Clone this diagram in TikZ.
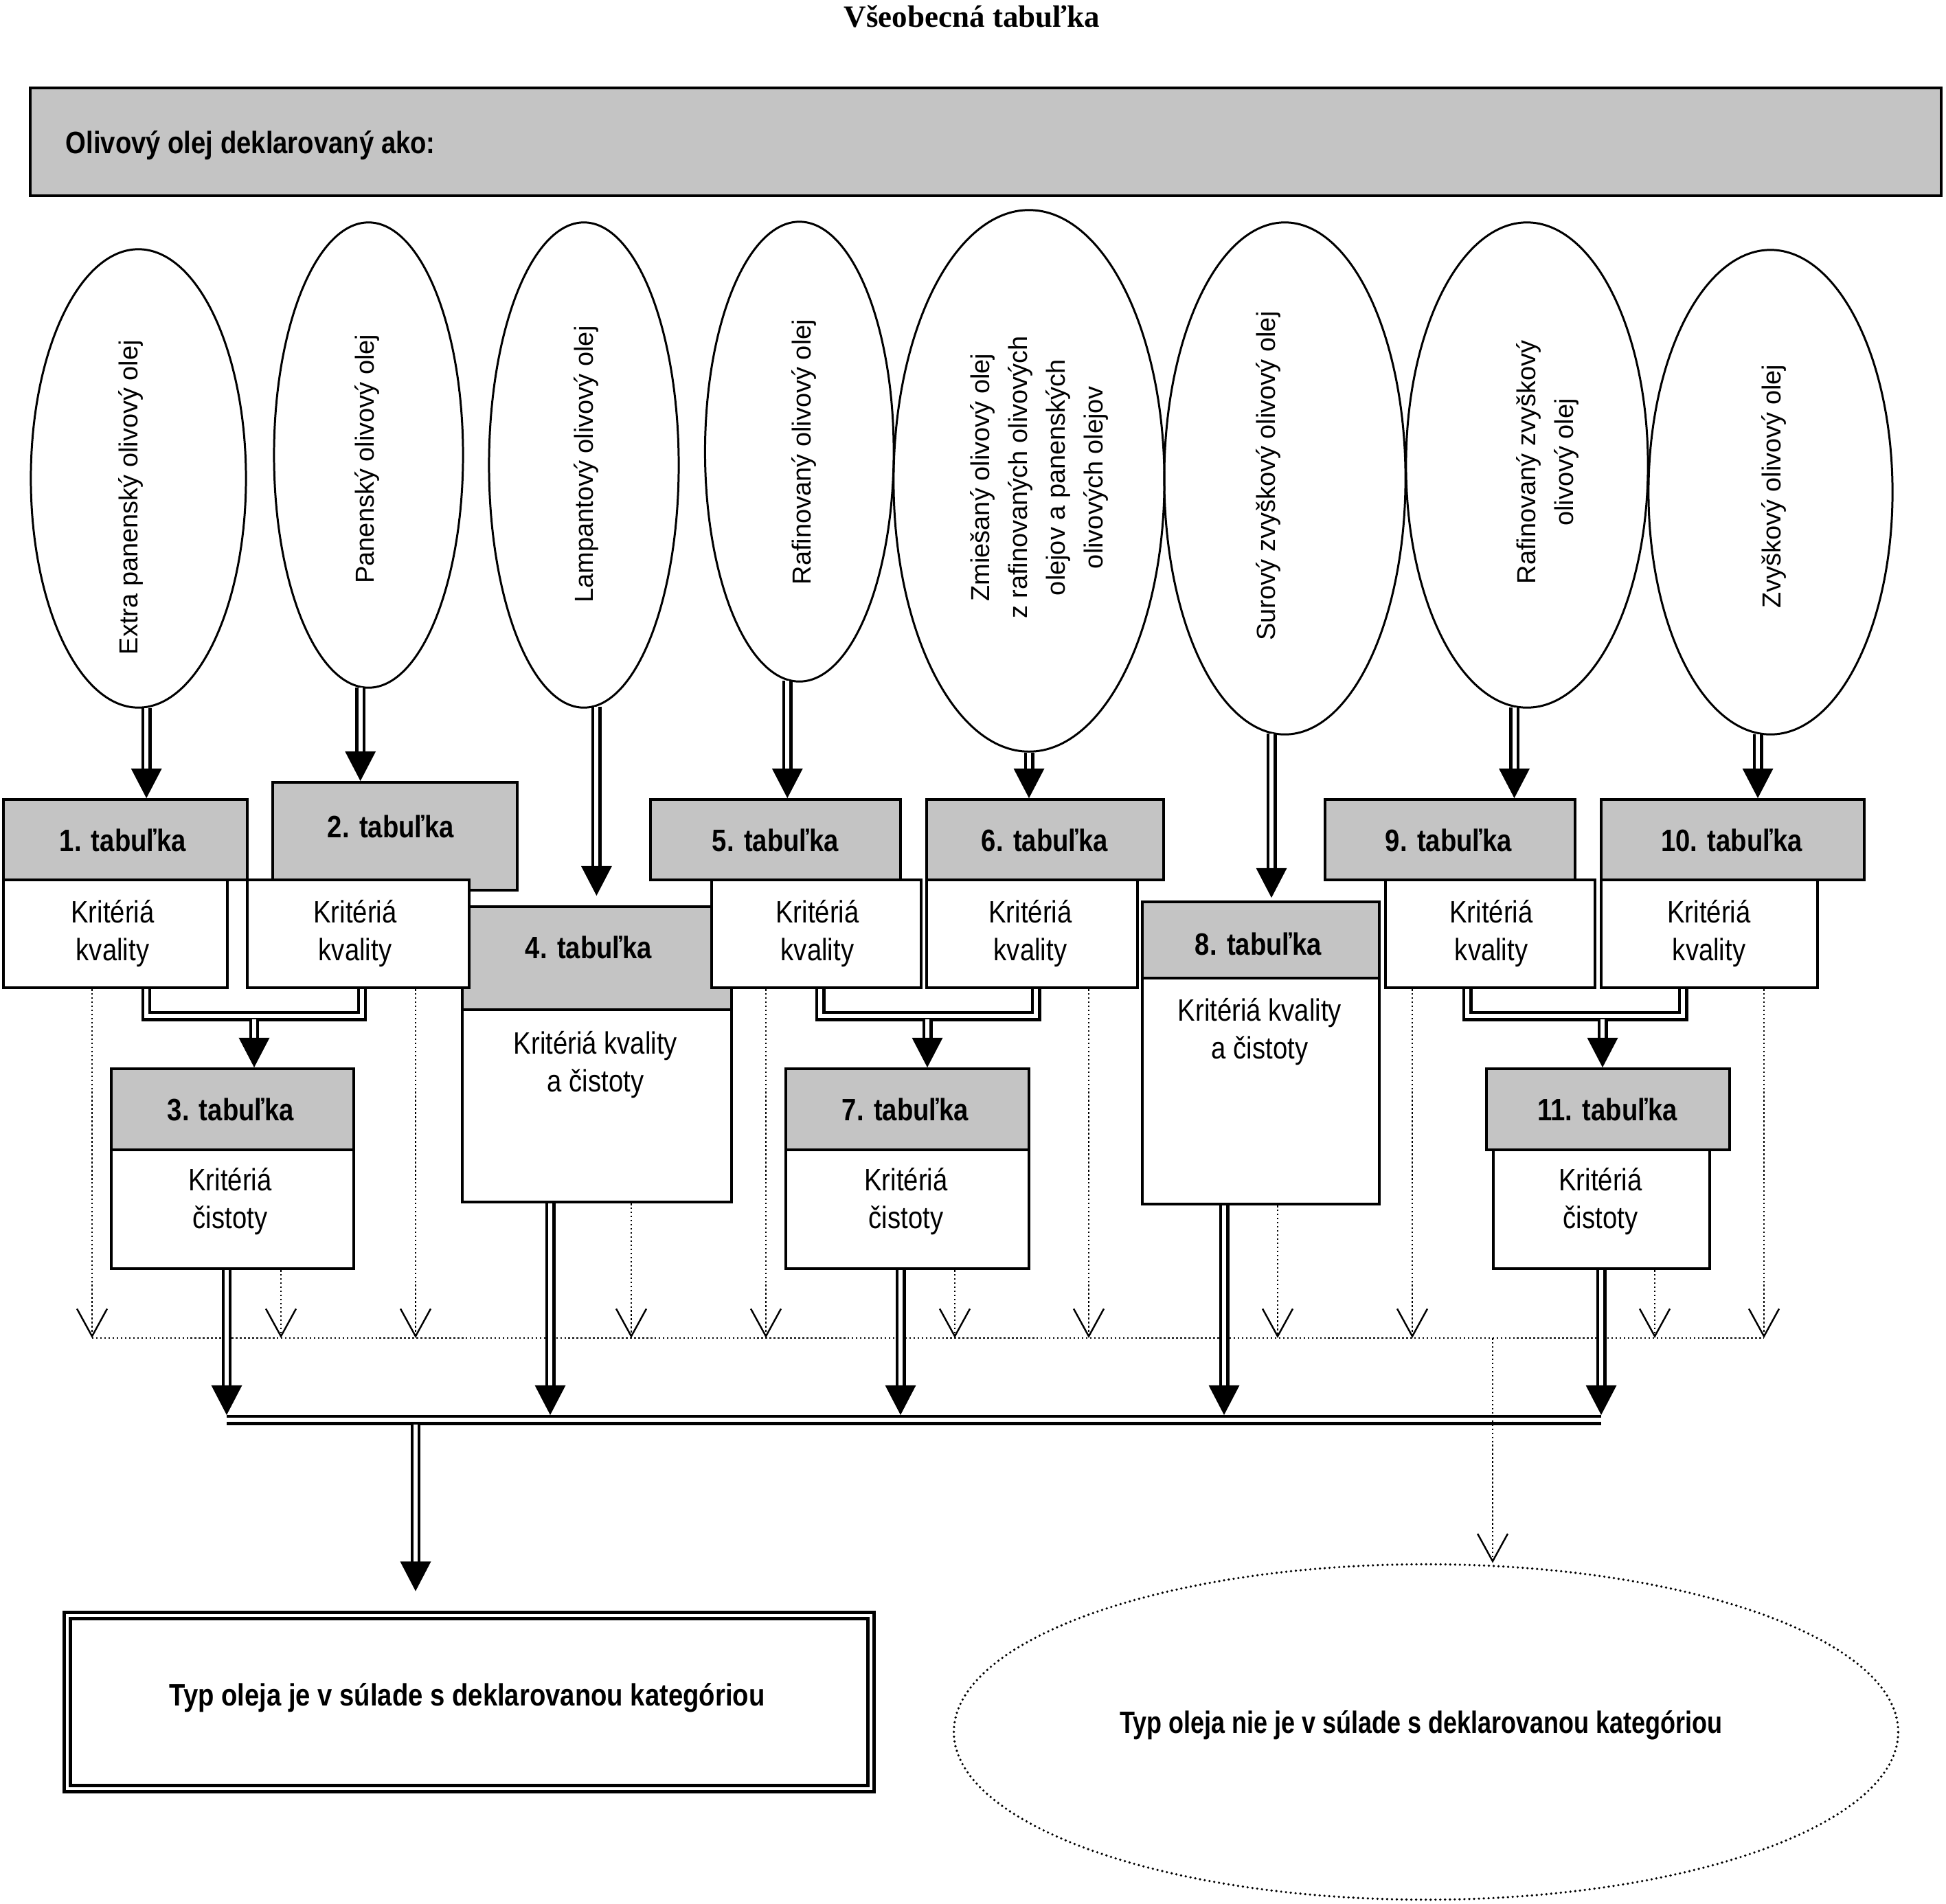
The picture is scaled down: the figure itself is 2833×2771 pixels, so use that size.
\documentclass[tikz,border=0pt]{standalone}
\usepackage{fontspec}
\setmainfont{Liberation Sans}
\newfontfamily\narrowfont{Liberation Sans}[FakeStretch=0.85]
\newfontfamily\narrowerfont{Liberation Sans}[FakeStretch=0.80]
\newfontfamily\titlefont{Liberation Serif}
\usetikzlibrary{arrows.meta,shapes.geometric,fit,calc,decorations.markings}
\definecolor{boxgray}{RGB}{196,196,196}
\begin{document}
\begin{tikzpicture}[x=0.01cm, y=-0.01cm,
  hbox/.style={draw, line width=1.14pt, fill=boxgray, inner sep=0pt},
  bbox/.style={draw, line width=1.14pt, fill=white, inner sep=0pt},
  htext/.style={font=\narrowfont\bfseries\fontsize{12.8pt}{15.65pt}\selectfont, inner sep=0pt},
  btext/.style={font=\narrowfont\fontsize{12.8pt}{15.65pt}\selectfont, align=center, inner sep=0pt, anchor=north},
  titletext/.style={font=\titlefont\bfseries\fontsize{12.8pt}{15pt}\selectfont, inner sep=0pt},
  oval/.style={draw, ellipse, line width=0.85pt, inner sep=0pt},
  etext/.style={font=\fontsize{10.8pt}{15.65pt}\selectfont, align=center, rotate=90, inner sep=0pt},
  dshaft/.style={draw, double, line width=1.28pt, double distance=1.7pt},
  darr/.style={dshaft, shorten >=9pt, postaction={decorate, decoration={markings,
      mark=at position 1 with {\fill[black, shorten >=0pt] (0pt,0pt) -- (-12.3pt,6.4pt) -- (-12.3pt,-6.4pt) -- cycle;}}}},
  dotline/.style={draw, line width=0.7pt, dash pattern=on 0.7pt off 1.0pt},
  dotarr/.style={dotline, -{Straight Barb[length=11.4pt, width=12.5pt]}},
]
\useasboundingbox (0,0) rectangle (2833,2771);

% title and top box
\node[titletext, anchor=base] (title) at (1415,39) {Všeobecná tabuľka};
\node[hbox, line width=1.3pt, fit={(44,128) (2826,285)}] (top) {};
\node[htext, anchor=base west] (toptxt) at (95,223) {Olivový olej deklarovaný ako:};

% ellipses
\node[oval, minimum width=3.13cm, minimum height=6.67cm] (e1) at (201.5,696.5) {};
\node[oval, minimum width=2.75cm, minimum height=6.77cm] (e2) at (536.5,662.5) {};
\node[oval, minimum width=2.76cm, minimum height=7.06cm] (e3) at (850,677) {};
\node[oval, minimum width=2.745cm, minimum height=6.69cm] (e4) at (1163.75,657.5) {};
\node[oval, minimum width=3.94cm, minimum height=7.88cm] (e5) at (1498,700) {};
\node[oval, minimum width=3.51cm, minimum height=7.45cm] (e6) at (1870.5,696.5) {};
\node[oval, minimum width=3.52cm, minimum height=7.06cm] (e7) at (2223,677) {};
\node[oval, minimum width=3.55cm, minimum height=7.05cm] (e8) at (2577.5,716.5) {};

\node[etext] (e1t) at (190,724) {Extra panenský olivový olej};
\node[etext] (e2t) at (534,668) {Panenský olivový olej};
\node[etext] (e3t) at (853,676) {Lampantový olivový olej};
\node[etext] (e4t) at (1170,658) {Rafinovaný olivový olej};
\node[etext] (e5t) at (1513,695) {Zmiešaný olivový olej\\z rafinovaných olivových\\olejov a panenských\\olivových olejov};
\node[etext] (e6t) at (1846,693) {Surový zvyškový olivový olej};
\node[etext] (e7t) at (2253,673) {Rafinovaný zvyškový\\olivový olej};
\node[etext] (e8t) at (2582,708) {Zvyškový olivový olej};

% header boxes
\node[hbox, fit={(673,1320) (1065,1470)}] (h4) {};
\node[hbox, fit={(5,1164) (360,1281)}] (h1) {};
\node[hbox, fit={(397,1139) (753,1296)}] (h2) {};
\node[hbox, fit={(947,1164) (1311,1281)}] (h5) {};
\node[hbox, fit={(1349,1164) (1694,1281)}] (h6) {};
\node[hbox, fit={(1929,1164) (2293,1281)}] (h9) {};
\node[hbox, fit={(2331,1164) (2714,1281)}] (h10) {};
\node[hbox, fit={(162,1556) (515,1674)}] (h3) {};
\node[hbox, fit={(1144,1556) (1498,1674)}] (h7) {};
\node[hbox, fit={(1663,1313) (2008,1424)}] (h8) {};
\node[hbox, fit={(2164,1556) (2518,1674)}] (h11) {};

% body boxes
\node[bbox, fit={(5,1281) (331,1438)}] (b1) {};
\node[bbox, fit={(360,1281) (683,1438)}] (b2) {};
\node[bbox, fit={(1036,1281) (1341,1438)}] (b5) {};
\node[bbox, fit={(1349,1281) (1656,1438)}] (b6) {};
\node[bbox, fit={(2017,1281) (2322,1438)}] (b9) {};
\node[bbox, fit={(2331,1281) (2646,1438)}] (b10) {};
\node[bbox, fit={(673,1470) (1065,1750)}] (b4) {};
\node[bbox, fit={(1663,1424) (2008,1753)}] (b8) {};
\node[bbox, fit={(162,1674) (515,1847)}] (b3) {};
\node[bbox, fit={(1144,1674) (1498,1847)}] (b7) {};
\node[bbox, fit={(2174,1674) (2489,1847)}] (b11) {};

% header texts
\node[htext] (h1t) at (179,1223) {1. tabuľka};
\node[htext] (h2t) at (569,1203) {2. tabuľka};
\node[htext] (h3t) at (336,1615) {3. tabuľka};
\node[htext] (h4t) at (857,1379) {4. tabuľka};
\node[htext] (h5t) at (1129,1223) {5. tabuľka};
\node[htext] (h6t) at (1521,1223) {6. tabuľka};
\node[htext] (h7t) at (1318,1615) {7. tabuľka};
\node[htext] (h8t) at (1832,1374) {8. tabuľka};
\node[htext] (h9t) at (2109,1223) {9. tabuľka};
\node[htext] (h10t) at (2521,1223) {10. tabuľka};
\node[htext] (h11t) at (2340,1615) {11. tabuľka};

% body texts
\node[btext] (b1t) at (164,1310) {Kritériá\\kvality};
\node[btext] (b2t) at (517,1310) {Kritériá\\kvality};
\node[btext] (b3t) at (335,1700) {Kritériá\\čistoty};
\node[btext] (b4t) at (867,1501) {Kritériá kvality\\a čistoty};
\node[btext] (b5t) at (1190,1310) {Kritériá\\kvality};
\node[btext] (b6t) at (1500,1310) {Kritériá\\kvality};
\node[btext] (b7t) at (1319,1700) {Kritériá\\čistoty};
\node[btext] (b8t) at (1834,1453) {Kritériá kvality\\a čistoty};
\node[btext] (b9t) at (2171,1310) {Kritériá\\kvality};
\node[btext] (b10t) at (2488,1310) {Kritériá\\kvality};
\node[btext] (b11t) at (2330,1700) {Kritériá\\čistoty};

% ellipse -> table arrows
\draw[darr] (e1.272) -- (e1.272 |- h1.north);
\draw[darr] (e2.268) -- (e2.268 |- h2.north);
\draw[darr] (e3.273) -- ($(e3.273 |- h4.north)+(0,-14)$);
\draw[darr] (e4.267) -- (e4.267 |- h5.north);
\draw[darr] (e5.270) -- (e5.270 |- h6.north);
\draw[darr] (e6.267) -- ($(e6.267 |- h8.north)+(0,-4)$);
\draw[darr] (e7.267) -- (e7.267 |- h9.north);
\draw[darr] (e8.267) -- (e8.267 |- h10.north);

% merge points
\coordinate (jL1) at (213,1479);  \coordinate (jR1) at (527,1479);  \coordinate (j1) at (370,1484);
\coordinate (jL2) at (1194,1479); \coordinate (jR2) at (1508,1479); \coordinate (j2) at (1350,1484);
\coordinate (jL3) at (2136,1479); \coordinate (jR3) at (2450,1479); \coordinate (j3) at (2333,1484);

\draw[dshaft] (b1.south -| jL1) -- (jL1) -- (jR1) -- (b2.south -| jR1);
\draw[darr] (j1) -- (j1 |- h3.north);
\draw[dshaft] (b5.south -| jL2) -- (jL2) -- (jR2) -- (b6.south -| jR2);
\draw[darr] (j2) -- (j2 |- h7.north);
\draw[dshaft] (b9.south -| jL3) -- (jL3) -- (jR3) -- (b10.south -| jR3);
\draw[darr] (j3) -- (j3 |- h11.north);

% dotted lines
\coordinate (d1) at (134,1948);
\coordinate (d2) at (409,1948);
\coordinate (d3) at (605,1948);
\coordinate (d4) at (919,1948);
\coordinate (d5) at (1115,1948);
\coordinate (d6) at (1390,1948);
\coordinate (d7) at (1585,1948);
\coordinate (d8) at (1860,1948);
\coordinate (d9) at (2056,1948);
\coordinate (d10) at (2409,1948);
\coordinate (d11) at (2568,1948);
\coordinate (dm) at (2173,1948);

\draw[dotline] (d1) -- (d11);
\draw[dotarr] (b1.south -| d1) -- (d1);
\draw[dotarr] (b3.south -| d2) -- (d2);
\draw[dotarr] (b2.south -| d3) -- (d3);
\draw[dotarr] (b4.south -| d4) -- (d4);
\draw[dotarr] (b5.south -| d5) -- (d5);
\draw[dotarr] (b7.south -| d6) -- (d6);
\draw[dotarr] (b6.south -| d7) -- (d7);
\draw[dotarr] (b8.south -| d8) -- (d8);
\draw[dotarr] (b9.south -| d9) -- (d9);
\draw[dotarr] (b11.south -| d10) -- (d10);
\draw[dotarr] (b10.south -| d11) -- (d11);

% bus
\coordinate (t3) at (330,2060);
\coordinate (t4) at (801,2060);
\coordinate (t7) at (1311,2060);
\coordinate (t8) at (1782,2060);
\coordinate (t11) at (2331,2060);
\coordinate (busL) at (330,2067);
\coordinate (busR) at (2331,2067);
\coordinate (busM) at (605,2074);

\draw[darr] (b3.south -| t3) -- (t3);
\draw[darr] (b4.south -| t4) -- (t4);
\draw[darr] (b7.south -| t7) -- (t7);
\draw[darr] (b8.south -| t8) -- (t8);
\draw[darr] (b11.south -| t11) -- (t11);
\draw[dshaft] (busL) -- (busR);

% results
\node[draw, double, line width=1.42pt, double distance=1.3pt, inner sep=0pt, fit={(98,2352) (1268,2604)}] (ok) {};
\node[htext, anchor=base] (oktxt) at (680,2483) {Typ oleja je v súlade s deklarovanou kategóriou};
\node[ellipse, draw, line width=1.05pt, dash pattern=on 0pt off 2.0pt, line cap=round, inner sep=0pt, minimum width=13.74cm, minimum height=4.88cm] (nok) at (2076,2521.5) {};
\node[htext, font=\narrowerfont\bfseries\fontsize{12.8pt}{15.65pt}\selectfont, anchor=base] (noktxt) at (2069,2523) {Typ oleja nie je v súlade s deklarovanou kategóriou};

\draw[darr] (busM) -- ($(busM |- ok.north)+(0,-33)$);
\draw[dotarr] (dm) -- (dm |- nok.north);
\end{tikzpicture}
\end{document}
